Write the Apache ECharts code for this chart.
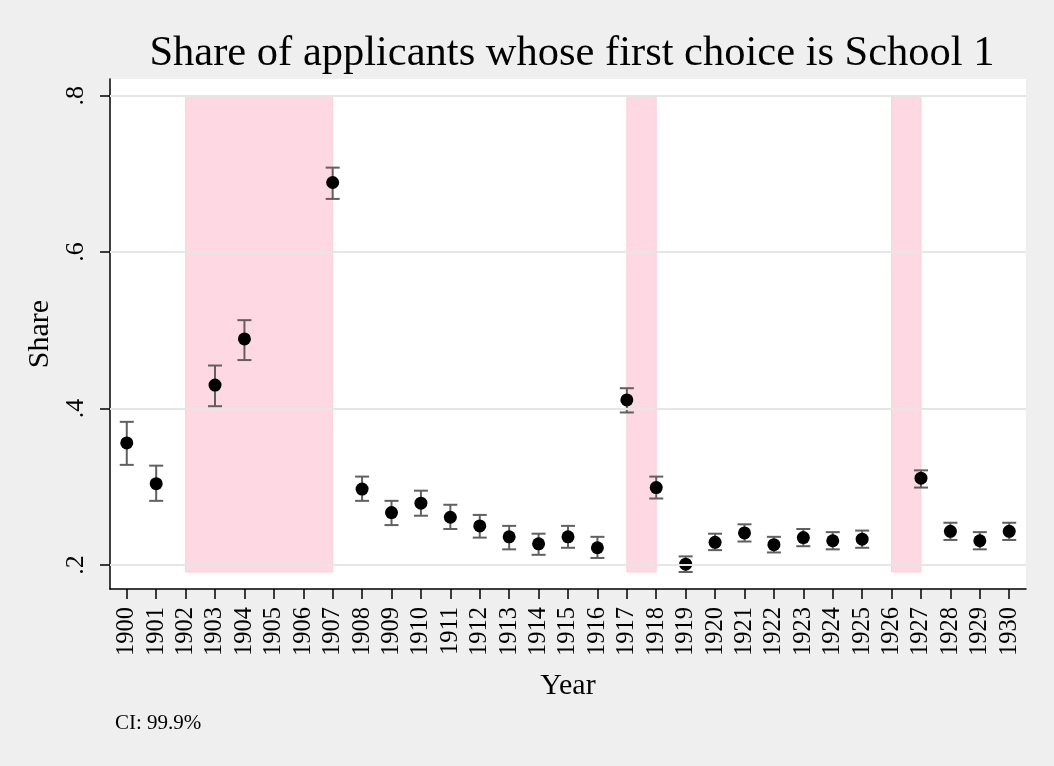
<!DOCTYPE html>
<html><head><meta charset="utf-8">
<script src="https://cdn.jsdelivr.net/npm/echarts@6/dist/echarts.min.js"></script>
<style>html,body{margin:0;padding:0;background:#efefef}#c{width:1054px;height:766px}</style>
</head><body><div id="c"></div>
<script>
const years  = [1900,1901,1903,1904,1907,1908,1909,1910,1911,1912,1913,1914,1915,1916,1917,1918,1919,1920,1921,1922,1923,1924,1925,1927,1928,1929,1930];
const share  = [0.356,0.304,0.430,0.489,0.689,0.297,0.267,0.279,0.261,0.250,0.236,0.227,0.236,0.222,0.411,0.299,0.201,0.229,0.241,0.226,0.235,0.231,0.233,0.311,0.243,0.231,0.243];
const ciLow  = [0.328,0.282,0.403,0.462,0.668,0.282,0.251,0.263,0.246,0.235,0.220,0.213,0.222,0.209,0.395,0.285,0.191,0.219,0.230,0.216,0.224,0.220,0.222,0.299,0.232,0.220,0.232];
const ciHigh = [0.383,0.327,0.455,0.513,0.708,0.313,0.282,0.295,0.277,0.264,0.250,0.240,0.250,0.236,0.426,0.313,0.211,0.240,0.252,0.236,0.246,0.242,0.244,0.321,0.254,0.242,0.254];
const shadedPeriods = [[1902,1907],[1917,1918],[1926,1927]];
const shadeBottom = 0.191, shadeTop = 0.8;
const yTicks = [0.2,0.4,0.6,0.8];
const xTicks = []; for (let y=1900;y<=1930;y++) xTicks.push(y);

const serif = '"Liberation Serif","DejaVu Serif",serif';
const chart = echarts.init(document.getElementById('c'));
chart.setOption({
  backgroundColor:'#efefef',
  animation:false,
  title:{text:'Share of applicants whose first choice is School 1',left:567,top:27,textAlign:'center',
    textStyle:{fontFamily:serif,fontSize:42.5,fontWeight:'normal',color:'#000'}},
  graphic:[
    {type:'rect',shape:{x:110,y:79,width:916,height:510},style:{fill:'#fff'},z:-10,silent:true},
    {type:'text',left:115,top:713,style:{text:'CI: 99.9%',font:'21px '+serif,fill:'#000'}}
  ],
  grid:{left:110,right:28,top:79,bottom:177},
  xAxis:{type:'value',min:1899.43,max:1930.57,name:'Year',nameLocation:'middle',nameGap:82,
    nameTextStyle:{fontFamily:serif,fontSize:30,color:'#000'},
    axisLine:{lineStyle:{color:'#000',width:1.5}},
    axisTick:{show:true,length:10,customValues:xTicks,lineStyle:{color:'#000',width:1.5}},
    axisLabel:{customValues:xTicks,rotate:90,fontFamily:serif,fontSize:24.5,color:'#000',margin:18,formatter:v=>String(v)},
    splitLine:{show:false}},
  yAxis:{type:'value',min:0.1693,max:0.8213,name:'Share',nameLocation:'middle',nameGap:49,nameRotate:90,
    nameTextStyle:{fontFamily:serif,fontSize:30,color:'#000'},
    axisLine:{show:true,lineStyle:{color:'#000',width:1.5}},
    axisTick:{show:true,length:10,customValues:yTicks,lineStyle:{color:'#000',width:1.5}},
    axisLabel:{customValues:yTicks,rotate:90,fontFamily:serif,fontSize:26,color:'#000',margin:21,
      formatter:v=>String(Math.round(v*10)/10).replace(/^0/,'')},
    splitLine:{show:false}},
  series:[
    {type:'line',data:[],z:1,silent:true,
      markLine:{silent:true,symbol:'none',label:{show:false},lineStyle:{color:'#e6e6e6',width:2,type:'solid'},
        data:yTicks.map(v=>({yAxis:v}))}},
    {type:'line',data:[],z:2,silent:true,
      markArea:{silent:true,itemStyle:{color:'#fed8e2',borderColor:'#fcd0dc',borderWidth:1},
        data:shadedPeriods.map(p=>[{xAxis:p[0],yAxis:shadeBottom},{xAxis:p[1],yAxis:shadeTop}])}},
    {type:'custom',z:3,silent:true,
      data:years.map((y,i)=>[y,ciLow[i],ciHigh[i]]),
      renderItem:(params,api)=>{
        const lo=api.coord([api.value(0),api.value(1)]);
        const hi=api.coord([api.value(0),api.value(2)]);
        const w=7, st={stroke:'#606060',lineWidth:2};
        return {type:'group',children:[
          {type:'line',shape:{x1:lo[0],y1:lo[1],x2:hi[0],y2:hi[1]},style:st},
          {type:'line',shape:{x1:lo[0]-w,y1:lo[1],x2:lo[0]+w,y2:lo[1]},style:st},
          {type:'line',shape:{x1:hi[0]-w,y1:hi[1],x2:hi[0]+w,y2:hi[1]},style:st}
        ]};
      }},
    {type:'scatter',z:4,symbol:'circle',symbolSize:13,itemStyle:{color:'#000',opacity:1},
      data:years.map((y,i)=>[y,share[i]])}
  ]
});
</script></body></html>
